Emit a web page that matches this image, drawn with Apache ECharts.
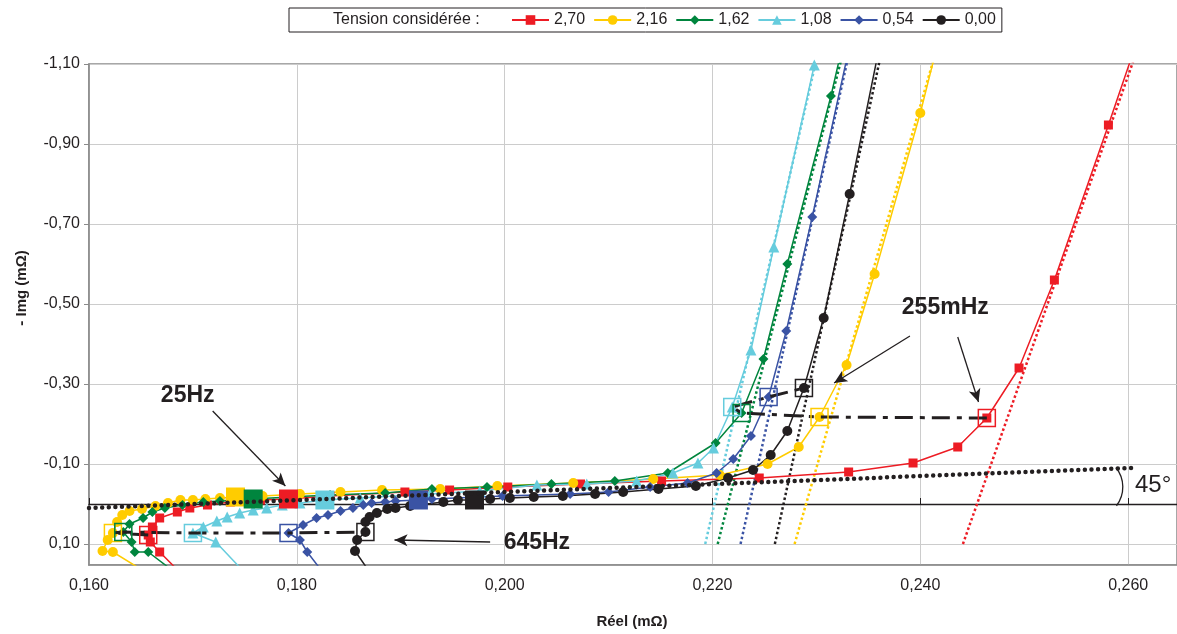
<!DOCTYPE html>
<html><head><meta charset="utf-8">
<script src="https://cdn.jsdelivr.net/npm/echarts@6/dist/echarts.min.js"></script>
<style>html,body{margin:0;padding:0;background:#fff}#c{width:1177px;height:634px}</style>
</head><body><div id="c"></div><script>
const FONT = '"Liberation Sans", Arial, sans-serif';
const INK = '#231F20';

// Legend / series names (Tension considérée)
const tensions = ['2,70', '2,16', '1,62', '1,08', '0,54', '0,00'];
const colors = ['#ED1C24', '#FFCC00', '#00853E', '#66CCDD', '#3A53A4', '#231F20'];
const symbols = ['rect', 'circle', 'diamond', 'triangle', 'diamond', 'circle'];
const symSizes = [9, 10, 10, 11, 10, 10];

// Réel (mΩ) and -Img (mΩ) for each tension
const reel_270 = [0.1690,0.1668,0.1659,0.1657,0.1661,0.1668,0.1685,0.1697,0.1714,0.1736,0.1765,0.1792,0.1832,0.1904,0.1947,0.2003,0.2073,0.2151,0.2245,0.2331,0.2393,0.2436,0.2464,0.2495,0.2529,0.2581,0.2604];
const img_270  = [0.1775,0.12,0.095,0.0775,0.0575,0.035,0.02,0.01,0.0025,-0.005,-0.01,-0.0125,-0.02,-0.03,-0.035,-0.0425,-0.05,-0.0575,-0.065,-0.08,-0.1025,-0.1425,-0.215,-0.34,-0.56,-0.9475,-1.1225];
const reel_216 = [0.1659,0.1623,0.1613,0.1618,0.1623,0.1627,0.1632,0.1639,0.1651,0.1664,0.1676,0.1688,0.1700,0.1712,0.1726,0.1741,0.1767,0.1803,0.1842,0.1882,0.1938,0.1993,0.2066,0.2143,0.2207,0.2253,0.2283,0.2303,0.2329,0.2356,0.2400,0.2414];
const img_216  = [0.1775,0.12,0.1175,0.09,0.0725,0.045,0.0275,0.0175,0.0125,0.005,-0.0025,-0.01,-0.01,-0.0125,-0.015,-0.0175,-0.02,-0.025,-0.03,-0.035,-0.0375,-0.045,-0.0525,-0.0625,-0.0725,-0.1,-0.1425,-0.2175,-0.3475,-0.575,-0.9775,-1.1225];
const reel_162 = [0.1686,0.1657,0.1644,0.1641,0.1633,0.1639,0.1652,0.1661,0.1673,0.1690,0.1710,0.1726,0.1758,0.1793,0.1832,0.1885,0.1930,0.1983,0.2045,0.2106,0.2157,0.2203,0.2228,0.2249,0.2272,0.2314,0.2323];
const img_162  = [0.1775,0.12,0.12,0.095,0.07,0.05,0.035,0.02,0.01,0.0025,-0.005,-0.0075,-0.0125,-0.0175,-0.0225,-0.0275,-0.0375,-0.0425,-0.05,-0.0575,-0.0775,-0.1525,-0.2275,-0.3625,-0.6,-1.02,-1.1225];
const reel_108 = [0.1752,0.1722,0.1700,0.1710,0.1723,0.1733,0.1745,0.1758,0.1771,0.1786,0.1803,0.1827,0.1861,0.1928,0.1976,0.2031,0.2079,0.2127,0.2162,0.2186,0.2201,0.2219,0.2237,0.2259,0.2298,0.2301];
const img_108  = [0.1775,0.095,0.0725,0.0575,0.0425,0.0325,0.0225,0.015,0.01,0.0025,-0.0025,-0.01,-0.015,-0.025,-0.0325,-0.0475,-0.05,-0.0575,-0.0775,-0.1025,-0.14,-0.2425,-0.385,-0.6425,-1.0975,-1.1225];
const reel_054 = [0.1827,0.1810,0.1803,0.1792,0.1806,0.1819,0.1830,0.1842,0.1854,0.1864,0.1872,0.1885,0.1895,0.1917,0.1930,0.1998,0.2063,0.2100,0.2140,0.2176,0.2204,0.2220,0.2237,0.2254,0.2271,0.2296,0.2330];
const img_054  = [0.1775,0.12,0.09,0.0725,0.0525,0.035,0.0275,0.0175,0.01,0.0025,-0.0025,-0.005,-0.0075,-0.01,-0.0125,-0.02,-0.025,-0.03,-0.0425,-0.0525,-0.0775,-0.1125,-0.17,-0.2675,-0.4325,-0.7175,-1.1225];
const reel_000 = [0.1872,0.1856,0.1858,0.1866,0.1866,0.1870,0.1877,0.1887,0.1895,0.1909,0.1941,0.1955,0.1971,0.1986,0.2005,0.2028,0.2056,0.2087,0.2114,0.2148,0.2184,0.2215,0.2239,0.2256,0.2272,0.2288,0.2307,0.2332,0.2359];
const img_000  = [0.1775,0.1175,0.09,0.07,0.045,0.0325,0.0225,0.0125,0.01,0.005,-0.005,-0.01,-0.01,-0.0125,-0.015,-0.0175,-0.02,-0.025,-0.03,-0.0375,-0.045,-0.065,-0.085,-0.1225,-0.1825,-0.29,-0.465,-0.775,-1.1225];

const reelSets = [reel_270, reel_216, reel_162, reel_108, reel_054, reel_000];
const imgSets  = [img_270, img_216, img_162, img_108, img_054, img_000];

// Index of the highlighted frequencies in each series
const idx645Hz  = [3, 4, 4, 2, 3, 3];
const idx25Hz   = [11, 15, 12, 11, 13, 12];
const idx255mHz = [22, 27, 22, 21, 23, 25];

// Dotted asymptotes (Réel at -Img = 0.10 and at -Img = -1.1225)
const asymReelLow  = [0.2441, 0.2279, 0.2205, 0.2193, 0.2227, 0.2260];
const asymReelHigh = [0.2607, 0.2414, 0.2325, 0.2301, 0.2331, 0.2362];
const asymImg = [0.10, -1.1225];

// 45° reference line
const diagReel = [0.160, 0.2603];
const diagImg  = [0.010, -0.090];

// Axis ticks
const xTicks = { min: 0.160, max: 0.2647, step: 0.02 };
const yTicks = { min: -1.10, max: 0.1525, step: 0.2 };

// Annotations (text, Réel, -Img)
const notes = [
  ['25Hz', 0.1695, -0.270, 23, 'bold'],
  ['255mHz', 0.2424, -0.490, 23, 'bold'],
  ['645Hz', 0.2031, 0.0975, 23, 'bold'],
  ['45°', 0.2624, -0.0475, 24, 'normal']
];
const arrows = [
  [[0.1719, -0.2325], [0.1789, -0.045]],
  [[0.2390, -0.420], [0.2317, -0.3025]],
  [[0.2436, -0.4175], [0.2456, -0.255]],
  [[0.1986, 0.095], [0.1894, 0.090]]
];
const arcCenter = [0.2565, -0.0425];

const zip = (a, b) => a.map((v, i) => [v, b[i]]);
const series = [];
for (let i = 0; i < 6; i++) {
  series.push({
    name: tensions[i], type: 'line', data: zip(reelSets[i], imgSets[i]),
    symbol: symbols[i], symbolSize: symSizes[i], showAllSymbol: true,
    lineStyle: { width: 1.5, color: colors[i] }, itemStyle: { color: colors[i] },
    z: 3, clip: true, animation: false, emphasis: { disabled: true }
  });
}
for (let i = 0; i < 6; i++) {
  series.push({
    type: 'line', data: [[asymReelLow[i], asymImg[0]], [asymReelHigh[i], asymImg[1]]],
    symbol: 'none', lineStyle: { width: 2.5, type: 'dotted', color: colors[i] },
    z: 2, clip: true, animation: false, silent: true
  });
}
const pick = (idx) => idx.map((k, i) => ({ value: [reelSets[i][k], imgSets[i][k]], itemStyle: { color: colors[i], opacity: 1 } }));
const pickOpen = (idx) => idx.map((k, i) => ({ value: [reelSets[i][k], imgSets[i][k]], itemStyle: { color: 'transparent', borderColor: colors[i], borderWidth: 1.5, opacity: 1 } }));
series.push({ type: 'scatter', data: pick(idx25Hz), symbol: 'rect', symbolSize: 19, z: 4, animation: false, silent: true, itemStyle: { opacity: 1 } });
[idx645Hz, idx255mHz].forEach(idx => {
  series.push({ type: 'line', data: idx.map((k, i) => [reelSets[i][k], imgSets[i][k]]), symbol: 'none',
    lineStyle: { color: INK, width: 3, type: [18, 7, 5, 7] }, z: 5, animation: false, silent: true });
  series.push({ type: 'scatter', data: pickOpen(idx), symbol: 'rect', symbolSize: 17, z: 6, animation: false, silent: true, itemStyle: { opacity: 1 } });
});
series.push({
  type: 'line', data: zip(diagReel, diagImg), symbol: 'none', z: 7, animation: false, silent: true,
  lineStyle: { color: INK, width: 4.5, type: [0, 6.6], cap: 'round' },
  markLine: {
    silent: true, symbol: ['none', 'arrow'], symbolSize: [9, 13], animation: false,
    label: { show: false }, lineStyle: { color: INK, width: 1.3, type: 'solid' },
    data: arrows.map(a => [{ coord: a[0] }, { coord: a[1] }])
  }
});

const chart = echarts.init(document.getElementById('c'), null, { renderer: 'canvas' });
const fmtX = v => v.toFixed(3).replace('.', ',');
const fmtY = v => v.toFixed(2).replace('.', ',');
chart.setOption({
  animation: false,
  backgroundColor: '#fff',
  textStyle: { fontFamily: FONT },
  grid: { left: 89, top: 64, right: 0, bottom: 69, show: true, borderColor: '#8a8a8a', borderWidth: 1.5, backgroundColor: '#fff' },
  legend: {
    data: tensions, left: 289, top: 8, padding: [4, 6, 4, 222], itemGap: 8, itemWidth: 37, itemHeight: 12,
    borderColor: INK, borderWidth: 1, textStyle: { fontSize: 16, color: INK, fontFamily: FONT }
  },
  xAxis: [{
    type: 'value', min: xTicks.min, max: xTicks.max, interval: xTicks.step, position: 'bottom',
    axisLine: { onZero: false, lineStyle: { color: '#8a8a8a', width: 1.5 } }, axisTick: { show: false },
    axisLabel: { formatter: fmtX, fontSize: 16, color: INK, margin: 13, showMaxLabel: false, fontFamily: FONT },
    splitLine: { lineStyle: { color: '#cccccc', width: 1 } }
  }, {
    type: 'value', min: xTicks.min, max: xTicks.max, interval: xTicks.step, position: 'bottom',
    axisLine: { onZero: true, lineStyle: { color: INK, width: 1.3 } },
    axisTick: { show: true, inside: true, length: 6, lineStyle: { color: INK } },
    axisLabel: { show: false }, splitLine: { show: false }
  }],
  yAxis: {
    type: 'value', inverse: true, min: yTicks.min, max: yTicks.max, interval: yTicks.step,
    axisLine: { lineStyle: { color: '#8a8a8a', width: 1.5 } },
    axisTick: { show: true, length: 5, lineStyle: { color: '#8a8a8a' } },
    axisLabel: { formatter: fmtY, fontSize: 16, color: INK, margin: 9, showMaxLabel: false, fontFamily: FONT },
    splitLine: { lineStyle: { color: '#cccccc', width: 1 } }
  },
  series: series
});

const px = (x, y) => chart.convertToPixel({ gridIndex: 0 }, [x, y]);
const g = [
  { type: 'text', left: 333, top: 12, style: { text: 'Tension considérée :', font: '16px ' + FONT, fill: INK } },
  { type: 'text', x: 22, y: 288, rotation: Math.PI / 2, style: { text: '- Img (mΩ)', font: 'bold 15px ' + FONT, fill: INK, textAlign: 'center', textVerticalAlign: 'middle' } },
  { type: 'text', x: 632, y: 622, style: { text: 'Réel (mΩ)', font: 'bold 15px ' + FONT, fill: INK, textAlign: 'center', textVerticalAlign: 'middle' } }
];
notes.forEach(n => {
  const p = px(n[1], n[2]);
  g.push({ type: 'text', x: p[0], y: p[1], z: 20, style: { text: n[0], font: n[4] + ' ' + n[3] + 'px ' + FONT, fill: INK, textAlign: 'center', textVerticalAlign: 'middle' } });
});
const ac = px(arcCenter[0], arcCenter[1]);
g.push({ type: 'arc', z: 20, shape: { cx: ac[0], cy: ac[1], r: 31, startAngle: -0.68, endAngle: 0.65 }, style: { stroke: INK, lineWidth: 1.3, fill: null } });
chart.setOption({ graphic: g });
</script></body></html>
